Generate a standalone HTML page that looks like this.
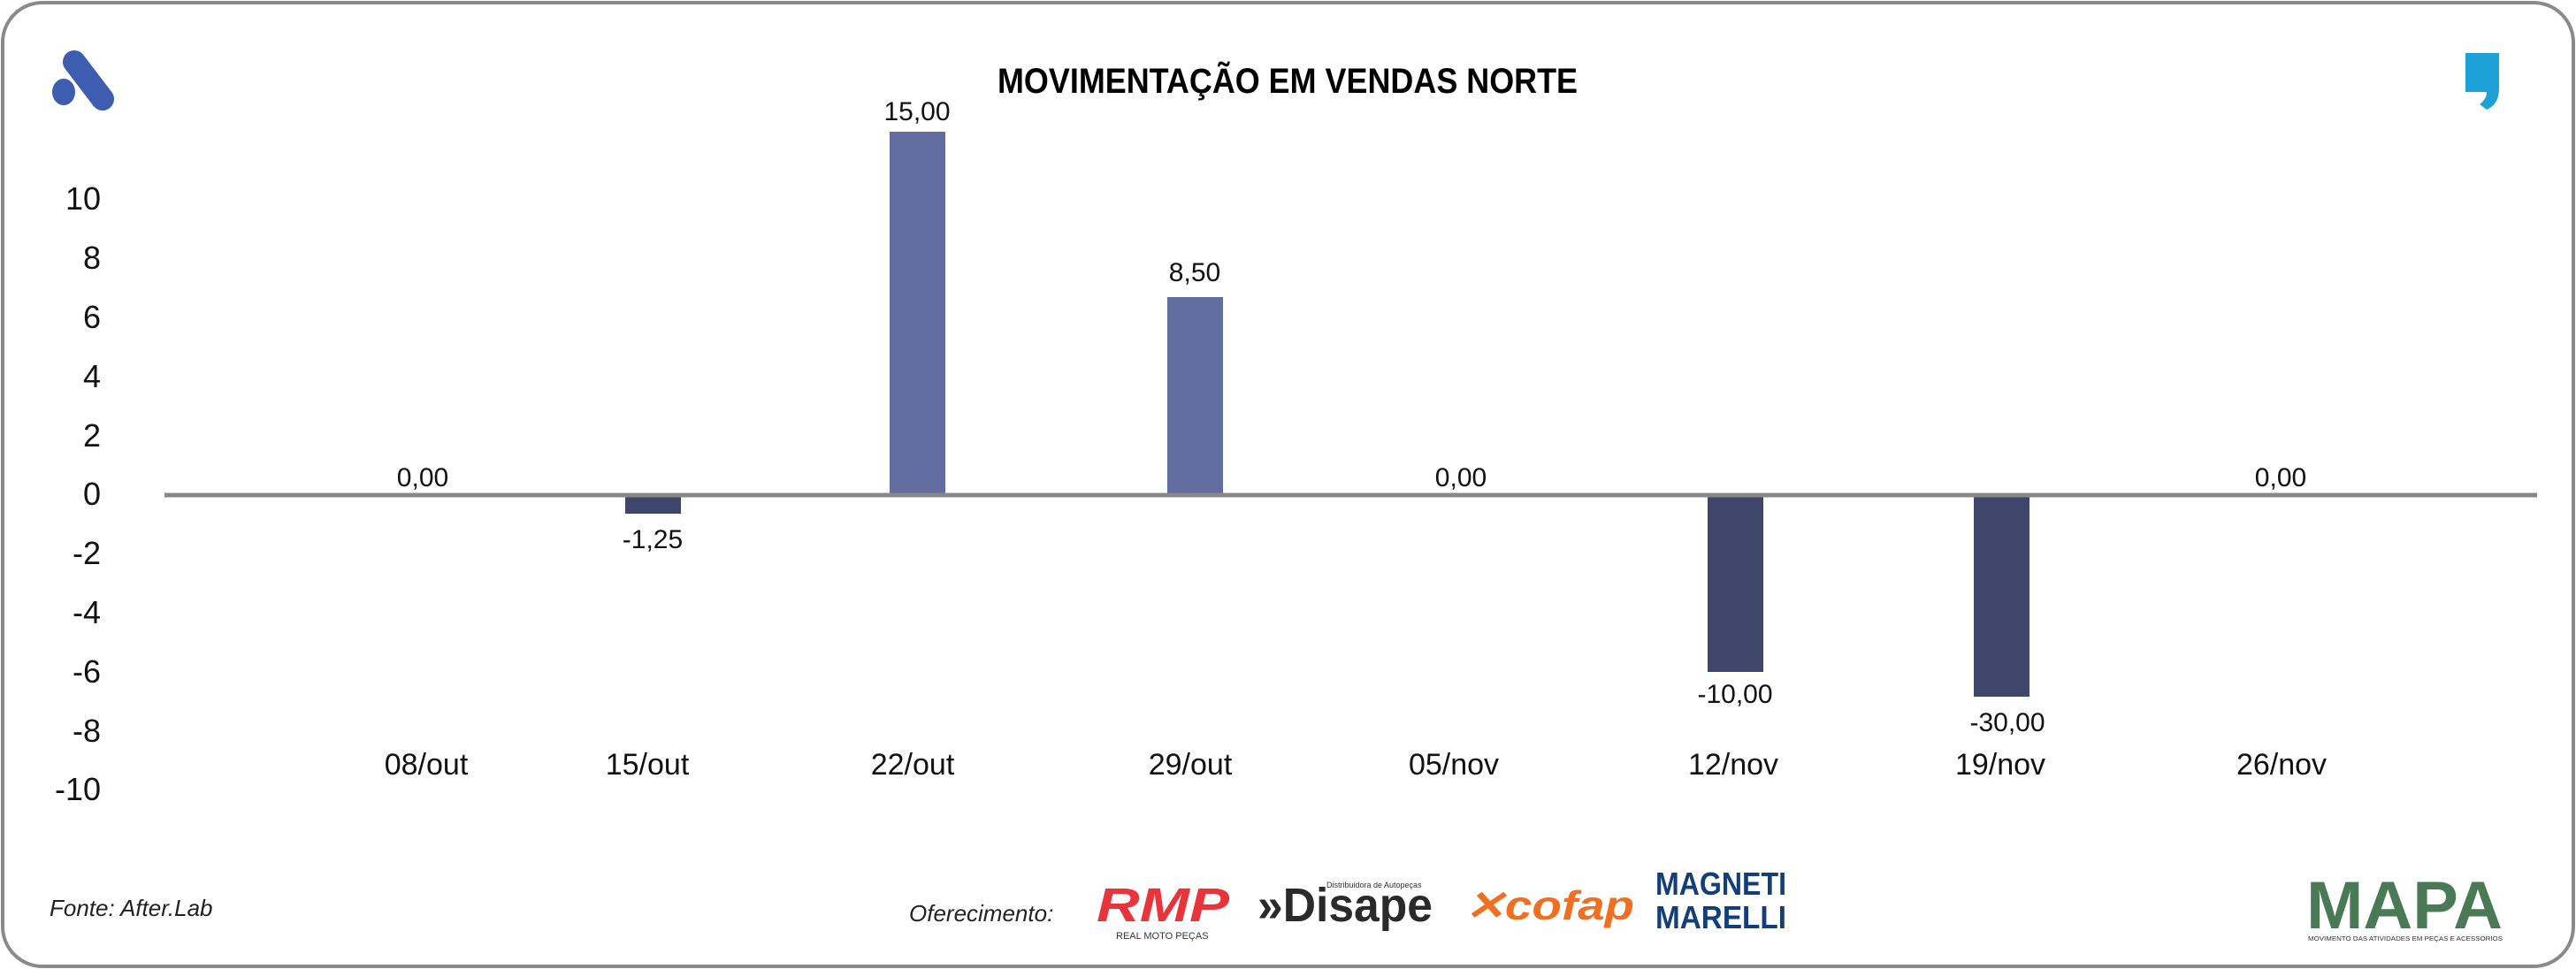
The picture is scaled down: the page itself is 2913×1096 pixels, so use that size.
<!DOCTYPE html>
<html><head><meta charset="utf-8"><style>
html,body{margin:0;padding:0;background:#fff}
svg{display:block}
text{font-family:"Liberation Sans",sans-serif}
</style></head><body>
<svg width="2913" height="1096" viewBox="0 0 2913 1096" xmlns="http://www.w3.org/2000/svg">
<rect x="3" y="3" width="2907" height="1090" rx="45" ry="45" fill="#fff" stroke="#8a8a8a" stroke-width="4"/>
<!-- left logo -->
<g fill="#3E5DB0">
<line x1="84" y1="70" x2="116" y2="112" stroke="#3E5DB0" stroke-width="26" stroke-linecap="round"/>
<ellipse cx="72" cy="104" rx="13" ry="15"/>
</g>
<!-- right logo -->
<path d="M2788 60 h38 v40 q0 18 -14 24 l-8 -6 q8 -6 8 -14 h-24 z" fill="#1DA1D6"/>
<!-- title -->
<text x="1456" y="105" text-anchor="middle" font-size="40" font-weight="bold" textLength="656" lengthAdjust="spacingAndGlyphs">MOVIMENTAÇÃO EM VENDAS NORTE</text>
<!-- y ticks -->
<g font-size="36" text-anchor="end" fill="#111">
<text x="114" y="237">10</text>
<text x="114" y="304">8</text>
<text x="114" y="371">6</text>
<text x="114" y="438">4</text>
<text x="114" y="505">2</text>
<text x="114" y="571">0</text>
<text x="114" y="638">-2</text>
<text x="114" y="705">-4</text>
<text x="114" y="772">-6</text>
<text x="114" y="839">-8</text>
<text x="114" y="905">-10</text>
</g>
<!-- bars -->
<rect x="707" y="559" width="63" height="22" fill="#3E476B"/>
<rect x="1006" y="149" width="63" height="410" fill="#636EA0"/>
<rect x="1320" y="336" width="63" height="223" fill="#636EA0"/>
<rect x="1931" y="559" width="63" height="201" fill="#3E476B"/>
<rect x="2232" y="559" width="63" height="229" fill="#3E476B"/>
<line x1="186" y1="560" x2="2869" y2="560" stroke="#888" stroke-width="5"/>
<!-- data labels -->
<g font-size="30" text-anchor="middle" fill="#111">
<text x="478" y="550">0,00</text>
<text x="738" y="620">-1,25</text>
<text x="1037" y="136">15,00</text>
<text x="1351" y="318">8,50</text>
<text x="1652" y="550">0,00</text>
<text x="1962" y="795">-10,00</text>
<text x="2270" y="827">-30,00</text>
<text x="2579" y="550">0,00</text>
</g>
<!-- x labels -->
<g font-size="34" text-anchor="middle" fill="#111">
<text x="482" y="876">08/out</text>
<text x="732" y="876">15/out</text>
<text x="1032" y="876">22/out</text>
<text x="1346" y="876">29/out</text>
<text x="1644" y="876">05/nov</text>
<text x="1960" y="876">12/nov</text>
<text x="2262" y="876">19/nov</text>
<text x="2580" y="876">26/nov</text>
</g>
<!-- footer -->
<text x="56" y="1036" font-size="26" font-style="italic" fill="#222">Fonte: After.Lab</text>
<text x="1028" y="1042" font-size="26" font-style="italic" fill="#222">Oferecimento:</text>
<text x="1240" y="1042" font-size="54" font-weight="bold" font-style="italic" fill="#E8343A" textLength="150" lengthAdjust="spacingAndGlyphs">RMP</text>
<text x="1262" y="1062" font-size="11" fill="#333">REAL MOTO PEÇAS</text>
<text x="1422" y="1042" font-size="54" font-weight="bold" fill="#2a2a2a" textLength="198" lengthAdjust="spacingAndGlyphs">»Disape</text>
<text x="1500" y="1004" font-size="9" fill="#333">Distribuidora de Autopeças</text>
<text x="1656" y="1040" font-size="46" font-weight="bold" font-style="italic" fill="#F07022" textLength="192" lengthAdjust="spacingAndGlyphs">✕cofap</text>
<text x="1872" y="1012" font-size="36" font-weight="bold" fill="#123E7A" textLength="148" lengthAdjust="spacingAndGlyphs">MAGNETI</text>
<text x="1872" y="1050" font-size="36" font-weight="bold" fill="#123E7A" textLength="148" lengthAdjust="spacingAndGlyphs">MARELLI</text>
<text x="2608" y="1050" font-size="76" font-weight="bold" fill="#4a7a55" textLength="222" lengthAdjust="spacingAndGlyphs">MAPA</text>
<text x="2610" y="1064" font-size="7" fill="#333" textLength="220" lengthAdjust="spacingAndGlyphs">MOVIMENTO DAS ATIVIDADES EM PEÇAS E ACESSÓRIOS</text>
</svg>
</body></html>
